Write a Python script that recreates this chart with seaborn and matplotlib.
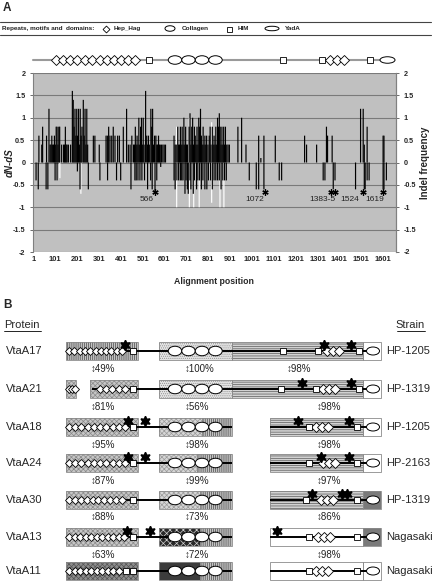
import numpy as np
import pandas as pd
import matplotlib
matplotlib.use("Agg")
import matplotlib.pyplot as plt
import seaborn as sns
from matplotlib.patches import Rectangle, Ellipse

# ---------------- Panel A data ----------------
up_pos = [27, 40, 44, 62, 73, 78, 82, 86, 90, 94, 98, 102, 106, 110, 114, 118, 122, 131, 140, 144, 148, 152, 156, 162, 172,
          180, 184, 188, 192, 196, 200, 204, 208, 212, 216, 220, 224, 230, 234, 238, 242, 246, 250,
          276, 283, 303, 334, 340, 346, 352, 360, 367, 375, 387, 395, 413, 428, 436,
          444, 452, 460, 464, 468, 472, 476, 480, 484, 488, 492, 496, 500, 504, 508, 515, 520, 524, 528, 532, 539, 543,
          547, 551, 556, 562, 566, 570, 574, 578, 582, 588, 594, 600, 606,
          645, 650, 655, 662, 666, 670, 674, 678, 682, 686, 690, 694, 698, 702, 706, 714, 718, 722, 726, 730, 734, 738,
          742, 746, 750, 754, 758, 762, 766, 770, 774, 778, 782, 786, 790, 794, 800, 806, 810, 814, 820, 824, 828, 832,
          836, 840, 844, 848, 852, 856, 860, 864, 868, 872, 876, 880, 886, 892, 898,
          937, 954, 974, 1032, 1042, 1056, 1108, 1242, 1251, 1297, 1342, 1347, 1368, 1498, 1510, 1515, 1528, 1601, 1605]
up_val = [0.6, 0.4, 0.8, 0.6, 1.2, 0.4, 0.4, 0.6, 0.4, 0.4, 0.6, 0.4, 0.8, 0.8, 0.4, 0.8, 0.8, 0.4, 0.4, 0.4, 0.8, 0.4, 0.4, 0.4, 0.4,
          1.6, 1.4, 0.8, 1.2, 0.6, 1.2, 0.6, 1.2, 0.4, 1.2, 0.6, 0.8, 1.4, 0.6, 1.2, 0.4, 1.2, 0.4,
          0.6, 0.6, 0.4, 0.6, 0.6, 0.8, 0.6, 0.6, 0.8, 0.6, 0.6, 0.6, 0.8, 1.2, 0.4,
          0.4, 0.6, 0.4, 0.4, 0.8, 0.4, 0.6, 0.4, 1.0, 0.4, 0.8, 1.0, 0.4, 1.0, 0.4, 1.6, 0.6, 0.4, 0.6, 0.4, 1.2, 0.8,
          1.2, 0.4, 0.6, 0.6, 0.4, 0.4, 0.6, 0.4, 0.4, 0.4, 0.4, 0.4, 0.4,
          0.6, 0.4, 0.4, 0.8, 0.4, 0.4, 0.8, 0.4, 0.8, 0.4, 1.0, 0.4, 0.8, 0.4, 0.4, 0.8, 1.1, 0.4, 0.8, 1.0, 0.4, 0.8,
          0.6, 0.4, 0.8, 0.4, 1.0, 0.8, 1.2, 0.6, 0.4, 0.8, 0.4, 0.6, 0.4, 0.6, 0.4, 0.6, 0.8, 0.4, 0.8, 0.4, 0.6, 0.4,
          0.8, 0.4, 1.0, 0.8, 1.1, 0.8, 0.4, 0.8, 0.4, 0.8, 0.4, 0.8, 0.4, 0.4, 0.4,
          0.8, 1.0, 0.4, 0.6, 0.1, 0.6, 0.6, 0.6, 0.4, 0.4, 0.8, 0.6, 0.6, 1.2, 1.2, 0.4, 0.8, 0.6, 0.6]
dn_pos = [14, 24, 60, 68, 101, 110,
          203, 215, 253,
          306, 341, 382, 401, 448,
          466, 472, 480, 489, 498, 510, 524, 538, 545, 558, 566, 584,
          645, 650, 658, 666, 674, 680, 686, 695, 700, 706, 710, 718, 722, 733, 738, 748, 754, 762, 770, 777, 786, 795,
          802, 812, 820, 828, 836, 844, 852, 860, 868, 876, 884,
          989, 1021, 1032, 1056, 1126, 1137, 1327, 1335, 1373, 1381, 1475, 1515, 1519, 1528, 1537, 1601, 1605, 1616]
dn_val = [-0.4, -0.6, -0.6, -0.6, -0.4, -0.4,
          -0.2, -0.6, -0.6,
          -0.4, -0.4, -0.4, -0.4, -0.6,
          -0.4, -0.4, -0.4, -0.4, -0.4, -0.4, -0.6, -0.4, -0.6, -0.7, -0.4, -0.1,
          -0.4, -0.6, -0.4, -0.4, -0.4, -0.4, -0.4, -0.7, -0.4, -0.6, -0.7, -0.4, -0.6, -0.7, -0.4, -0.6, -0.4, -0.4,
          -0.6, -0.4, -0.6, -0.6, -0.4, -0.4, -0.6, -0.4, -0.4, -0.4, -0.4, -0.6, -0.4, -0.4, -0.4,
          -0.4, -0.6, -0.6, -0.6, -0.4, -0.4, -0.4, -0.4, -0.6, -0.4, -0.6, -0.6, -0.6, -0.4, -0.4, -0.6, -0.6, -0.4]
indel_up_pos = [657, 715, 817]
indel_up_val = [0.8, 1.0, 0.9]
indel_dn_pos = [123, 219, 657, 715, 735, 760, 817, 855, 873]
indel_dn_val = [-0.35, -0.7, -1.0, -1.0, -1.0, -1.0, -0.9, -1.0, -1.0]
site_labels = ['566', '1072', '1383-5', '1524', '1619']
site_label_pos = [519, 1013, 1323, 1447, 1563]
site_star_pos = [558, 1061, 1361, 1380, 1507, 1601]
xtick_vals = [1, 101, 201, 301, 401, 501, 601, 701, 801, 901, 1001, 1101, 1201, 1301, 1401, 1501, 1601]
ytick_vals = [2, 1.5, 1, 0.5, 0, -0.5, -1, -1.5, -2]
ytick_labels = ['2', '1.5', '1', '0.5', '0', '-0.5', '-1', '-1.5', '-2']

# ---------------- Panel B data ----------------
proteins = ['VtaA17', 'VtaA21', 'VtaA18', 'VtaA24', 'VtaA30', 'VtaA13', 'VtaA11']
strains = ['HP-1205', 'HP-1319', 'HP-1205', 'HP-2163', 'HP-1319', 'Nagasaki', 'Nagasaki']
pct_n = ['49%', '81%', '95%', '87%', '88%', '63%', None]
pct_m = ['100%', '56%', '98%', '99%', '73%', '72%', None]
pct_c = ['98%', '98%', '98%', '97%', '86%', '98%', None]

# ---------------- style / layout ----------------
sns.set_style('white')
plt.rcParams['font.family'] = ['Liberation Sans', 'DejaVu Sans']
plt.rcParams['hatch.linewidth'] = 0.5

W, H = 432, 581
fig = plt.figure(figsize=(W / 100, H / 100), dpi=100)
AX_L, AX_R, AX_T, AX_B = 33, 396, 73, 252
ax = fig.add_axes([AX_L / W, 1 - AX_B / H, (AX_R - AX_L) / W, (AX_B - AX_T) / H])
ax.set_facecolor('#c0c0c0')
BAR_UNITS = 5.4


def bars(x, y, color):
    x = np.asarray(x, float)
    u = np.unique(x)
    step = np.min(np.diff(u)) if len(u) > 1 else 1.0
    n0 = len(ax.patches)
    sns.barplot(x=x, y=np.asarray(y, float), native_scale=True, width=BAR_UNITS / step,
                color=color, errorbar=None, saturation=1, linewidth=0, ax=ax)
    for p in ax.patches[n0:]:
        p.set_snap(False)


bars(indel_up_pos, indel_up_val, 'white')
bars(indel_dn_pos, indel_dn_val, 'white')
bars(up_pos, up_val, '#000000')
bars(dn_pos, dn_val, '#000000')

ax.set_xlim(0, 1660)
ax.set_ylim(-2, 2)
ax.set_axisbelow(True)
ax.yaxis.grid(True, color='#7a7a7a', lw=0.8)
ax.xaxis.grid(False)
ax.set_yticks(ytick_vals)
ax.set_yticklabels(ytick_labels, fontsize=5.2, fontweight='bold')
ax.set_xticks(xtick_vals)
ax.set_xticklabels([str(v) for v in xtick_vals], fontsize=5.4, fontweight='bold')
ax.tick_params(axis='y', length=2.5, width=0.6, color='#555555', pad=3)
ax.tick_params(axis='x', length=0, pad=3)
ax.set_xlabel('')
ax.set_ylabel('')
for s in ['top', 'bottom']:
    ax.spines[s].set_visible(False)
for s in ['left', 'right']:
    ax.spines[s].set_color('#808080')
    ax.spines[s].set_linewidth(0.8)

ax2 = ax.twinx()
ax2.set_ylim(-2, 2)
ax2.set_yticks(ytick_vals)
ax2.set_yticklabels(ytick_labels, fontsize=5.2, fontweight='bold')
ax2.tick_params(axis='y', length=2.5, width=0.6, color='#555555', pad=3)
for s in ['top', 'bottom', 'left']:
    ax2.spines[s].set_visible(False)
ax2.spines['right'].set_color('#808080')
ax2.spines['right'].set_linewidth(0.8)

# site annotations (labels as text, asterisks as markers)
for lab, p in zip(site_labels, site_label_pos):
    ax.text(p, -0.83, lab, fontsize=6, ha='center', va='center', color='#222222')
ax.plot(site_star_pos, [-0.66] * len(site_star_pos), ls='none', marker=(6, 2, 0), ms=4.5,
        mew=0.9, color='black', zorder=6)

# ---------------- overlay (pixel coordinates) ----------------
ov = fig.add_axes([0, 0, 1, 1])
ov.set_xlim(0, W)
ov.set_ylim(H, 0)
ov.axis('off')


def diamonds(xs, y, ms=4.2, z=4):
    ov.plot(xs, [y] * len(xs), ls='none', marker='D', ms=ms, mfc='white', mec='black', mew=0.6, zorder=z)


def squares(xs, y, ms=4.0, z=4):
    ov.plot(xs, [y] * len(xs), ls='none', marker='s', ms=ms, mfc='white', mec='black', mew=0.6, zorder=z)


def ell(x, y, w, h, z=4):
    ov.add_patch(Ellipse((x, y), w, h, facecolor='white', edgecolor='black', lw=0.7, zorder=z))


ov.text(3, 8, 'A', fontsize=8.5, fontweight='bold', va='center')
ov.text(3, 305, 'B', fontsize=8.5, fontweight='bold', va='center')

# legend strip
ov.plot([0, 431], [22, 22], color='#444444', lw=0.8)
ov.plot([0, 431], [34.5, 34.5], color='#444444', lw=0.8)
lt = dict(fontsize=4.6, fontweight='bold', va='center', color='#222222')
ov.text(2, 28.5, 'Repeats, motifs and  domains:', **lt)
diamonds([106], 28.5, ms=3.5)
ov.text(114, 28.5, 'Hep_Hag', **lt)
ell(170, 28.5, 10, 5.5)
ov.text(182, 28.5, 'Collagen', **lt)
squares([228.5], 28.5, ms=3.6)
ov.text(238, 28.5, 'HIM', **lt)
ell(272, 28.5, 14, 4.5)
ov.text(285, 28.5, 'YadA', **lt)

# domain track of panel A
TY = 60
ov.plot([33, 388], [TY, TY], color='#9a9a9a', lw=1.5, zorder=2)
diamonds([56, 63, 70, 77, 85, 92, 100, 107, 114, 121, 128, 135], TY, ms=4.8)
squares([149, 283, 322, 370], TY, ms=4.6)
for cx in [175, 188.5, 202, 215.5]:
    ell(cx, TY, 13.5, 8.5)
diamonds([330, 337, 344], TY, ms=4.8)
ell(387.5, TY, 15, 6.5)

# axis titles
ov.text(10, 163, 'dN-dS', rotation=90, fontsize=7, fontweight='bold', style='italic', ha='center', va='center')
ov.text(425, 163, 'Indel frequency', rotation=90, fontsize=7, fontweight='bold', ha='center', va='center')
ov.text(214, 281, 'Alignment position', fontsize=6.3, fontweight='bold', ha='center', va='center')

# ---------------- Panel B schematic ----------------
ov.text(4, 325, 'Protein', fontsize=8, va='center')
ov.plot([4, 41], [331, 331], color='black', lw=0.6)
ov.text(425, 325, 'Strain', fontsize=8, va='center', ha='right')
ov.plot([397, 425], [331, 331], color='black', lw=0.6)

STYLES = {
    'vert': ('#c4c4c4', '||||||||', '#4a4a4a'),
    'cross': ('#c6c6c6', 'xxxxxxx', '#8a8a8a'),
    'crosslight': ('#d6d6d6', 'xxxxxxx', '#9a9a9a'),
    'dots': ('#e6e6e6', '........', '#8c8c8c'),
    'horiz': ('#d2d2d2', '-------', '#5a5a5a'),
    'checker': ('#2a2a2a', 'xxxxx', '#d0d0d0'),
    'dark': ('#3c3c3c', '', '#3c3c3c'),
    'darkcross': ('#8c8c8c', 'xxxxxxx', '#555555'),
    'white': ('white', '', 'white'),
    'gray': ('#7a7a7a', '', '#7a7a7a'),
}
row_y = [351, 389, 427, 463, 500, 537, 571]
BOX_H = 17.5
segments = [
    [(66, 138, 'vert'), (159, 232, 'dots'), (232, 363, 'horiz'), (363, 381, 'white')],
    [(66, 76, 'cross'), (90, 138, 'cross'), (159, 232, 'dots'), (232, 363, 'horiz'), (363, 381, 'white')],
    [(66, 138, 'cross'), (159, 202, 'crosslight'), (202, 232, 'vert'), (270, 363, 'horiz'), (363, 381, 'white')],
    [(66, 138, 'cross'), (159, 197, 'crosslight'), (197, 232, 'vert'), (270, 363, 'horiz'), (363, 381, 'white')],
    [(66, 138, 'cross'), (159, 200, 'crosslight'), (200, 232, 'vert'), (270, 363, 'horiz'), (363, 381, 'gray')],
    [(66, 138, 'cross'), (159, 200, 'checker'), (200, 232, 'vert'), (270, 363, 'white'), (363, 381, 'gray')],
    [(66, 138, 'darkcross'), (159, 200, 'dark'), (200, 232, 'vert'), (270, 363, 'white'), (363, 381, 'white')],
]
lines = [
    [(66, 368)],
    [(92, 368)],
    [(66, 232), (270, 368)],
    [(66, 232), (270, 368)],
    [(66, 232), (270, 368)],
    [(66, 232), (270, 368)],
    [(66, 232), (270, 368)],
]
n_diamonds = [
    list(np.linspace(69, 122, 11)),
    [68.5, 71.5, 74.5, 100, 106, 112, 119, 125],
    list(np.linspace(69, 125, 10)),
    list(np.linspace(69, 125, 10)),
    list(np.linspace(69, 122, 10)),
    list(np.linspace(69, 124, 11)),
    list(np.linspace(69, 119, 10)),
]
c_diamond_start = [327, 323, 316, 323, 321, 318, 316]
row_squares = [
    [133, 283, 318, 359], [133, 281, 316, 359], [133, 309, 357], [133, 309, 357],
    [133, 306, 357], [133, 309, 357], [126, 133, 309, 357],
]
row_stars = [
    [125, 324, 351], [302, 351], [128, 145, 298, 349], [128, 145, 321, 349],
    [312, 342, 347], [127, 150, 277], [],
]
pct_c_x = [287, 317, 317, 317, 317, 317, 317]

for i, yc in enumerate(row_y):
    ov.text(6, yc, proteins[i], fontsize=8, va='center')
    ov.text(386, yc, strains[i], fontsize=8, va='center')
    for x0, x1, st in segments[i]:
        fc, hatch, hc = STYLES[st]
        ov.add_patch(Rectangle((x0, yc - BOX_H / 2), x1 - x0, BOX_H, facecolor=fc, edgecolor=hc,
                               hatch=hatch if hatch else None, lw=0, zorder=1))
        ov.add_patch(Rectangle((x0, yc - BOX_H / 2), x1 - x0, BOX_H, facecolor='none',
                               edgecolor='#8a8a8a', lw=0.6, zorder=1.5))
    for x0, x1 in lines[i]:
        ov.plot([x0, x1], [yc, yc], color='black', lw=1.4, zorder=2, solid_capstyle='butt')
    for cx in [175, 188.5, 202, 215.5]:
        ell(cx, yc, 13.5, 9.5)
    ell(373, yc, 13, 8)
    diamonds(n_diamonds[i], yc, ms=4.0)
    s0 = c_diamond_start[i]
    diamonds([s0, s0 + 6, s0 + 12], yc, ms=4.6)
    squares(row_squares[i], yc, ms=4.0)
    if row_stars[i]:
        ov.plot(row_stars[i], [yc - 6.5] * len(row_stars[i]), ls='none', marker=(6, 1, 0), ms=7.5,
                color='black', zorder=5)
    if pct_n[i]:
        pt = dict(fontsize=7, va='center', ha='left', color='#222222')
        ov.text(91, yc + 17.5, '\u2195' + pct_n[i], **pt)
        ov.text(185, yc + 17.5, '\u2195' + pct_m[i], **pt)
        ov.text(pct_c_x[i], yc + 17.5, '\u2195' + pct_c[i], **pt)

fig.savefig('out.png', dpi=100)
